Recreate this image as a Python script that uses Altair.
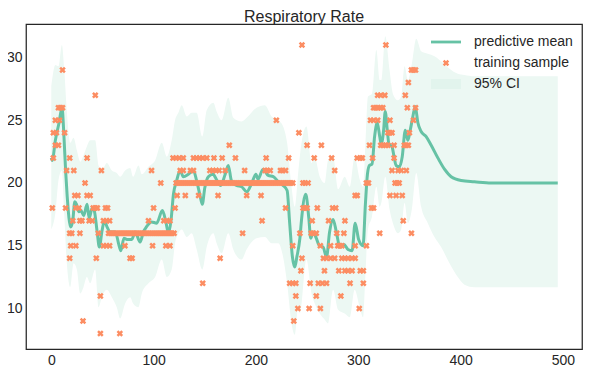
import altair as alt
import pandas as pd

# ---- predictive mean ----
mean_x = [0, 1, 4, 7.6, 10.5, 12.4, 14, 15.6, 18.9, 21,
          23, 24.7, 27, 29, 31.7, 35, 37, 40, 42, 44.7,
          47, 49.6, 52, 54.5, 57.8, 62.6, 66, 68, 71, 74,
          78.7, 82, 86.8, 90, 93, 98, 103, 108.6, 112, 114.5,
          117, 119.4, 122.6, 126, 129, 134, 139, 142, 145.4, 147.6,
          150, 153.5, 158, 162, 165.5, 170, 173, 176, 181, 186,
          191, 196, 200, 202, 207, 212, 217, 222, 226.6, 230.5,
          233, 235.7, 238, 240, 243, 244.5, 248.7, 251.7, 253.6, 256,
          259, 262, 265.6, 269, 272, 275.4, 278.6, 282, 286, 290,
          294, 297, 300.4, 304.7, 307, 309, 311, 313.5, 316, 318.6,
          321, 322.5, 324.8, 326.4, 328.4, 330, 333, 335, 337, 340.4,
          343, 346, 348.5, 350.8, 353.4, 355.7, 358.3, 361.5, 366.4, 371.3,
          377.8, 384.3, 390.8, 400.6, 413.6, 430, 460, 495]
mean_y = [22.0, 21.8, 23.4, 24.8, 26.0, 23.7, 21.0, 18.9, 16.5, 17.0,
          18.5, 18.3, 17.7, 17.8, 17.4, 18.3, 17.2, 18.0, 17.8, 16.2,
          14.9, 16.2, 17.0, 16.5, 16.1, 16.1, 15.1, 14.6, 15.6, 15.5,
          15.5, 16.1, 15.3, 16.1, 16.5, 16.9, 16.8, 17.8, 16.9, 16.0,
          17.0, 19.1, 20.2, 21.0, 20.5, 20.7, 21.0, 20.2, 19.0, 18.3,
          19.6, 20.5, 20.7, 20.2, 19.8, 20.7, 21.4, 20.2, 19.8, 19.7,
          19.3, 20.0, 20.7, 20.3, 21.1, 20.6, 20.5, 20.1, 19.8, 19.4,
          16.8, 14.1, 13.3, 14.1, 15.6, 17.0, 19.1, 17.2, 15.6, 16.1,
          15.6, 15.0, 14.9, 14.1, 16.1, 17.1, 16.1, 14.9, 15.1, 14.7,
          14.6, 16.8, 15.5, 15.0, 18.3, 20.7, 21.4, 21.5, 23.7, 24.8,
          23.7, 23.1, 24.2, 25.7, 24.2, 23.1, 22.9, 22.1, 21.4, 21.3,
          22.1, 24.2, 23.4, 24.2, 25.3, 26.1, 24.8, 24.1, 23.7, 23.0,
          22.0, 21.1, 20.5, 20.2, 20.1, 20.0, 20.0, 20.0]

# ---- 95% CI band ----
band_x = [0, 4, 7.2, 10.4, 12.7, 15.3, 18.5, 21.8, 25, 28.3,
          31.5, 34.8, 38, 42.9, 46.2, 49.4, 54.3, 59.2, 64, 67.3,
          72.2, 77.1, 80, 85.2, 88.5, 95, 101.5, 108, 112.9, 117.7,
          121, 124.2, 127.5, 132.4, 137.2, 142.1, 147.6, 151.9, 158.4, 161.6,
          166.5, 173, 177.9, 186, 190.9, 200.6, 208.8, 215.3, 221.8, 226.6,
          230.5, 234.8, 238, 241.3, 242.9, 249.4, 254.3, 257.5, 262.4, 267.3,
          270.5, 275.4, 280.3, 286.8, 291.7, 296.5, 301.4, 304.7, 306.9, 309.5,
          313.4, 317.7, 320.9, 322.5, 326.4, 330.6, 333.9, 338.8, 342, 345.3,
          348.5, 352.4, 356.7, 361.5, 368, 374.5, 381, 389.2, 397.3, 403.8,
          413.6, 495]
band_upper = [27.7, 29.4, 29.3, 31.0, 29.0, 25.6, 23.2, 23.6, 22.6, 21.7,
              22.2, 22.9, 23.4, 23.4, 21.4, 21.0, 21.6, 21.0, 20.8, 20.5,
              21.0, 21.2, 20.5, 21.4, 20.7, 21.3, 21.8, 23.2, 22.1, 23.4,
              25.0, 25.6, 26.2, 25.3, 25.6, 25.6, 23.7, 25.8, 26.4, 25.7,
              25.0, 26.8, 25.2, 24.9, 25.2, 26.0, 26.2, 25.3, 25.0, 24.5,
              23.2, 19.7, 18.1, 20.8, 22.1, 24.5, 21.6, 22.0, 20.5, 20.0,
              21.8, 22.1, 19.5, 20.5, 19.7, 22.1, 20.3, 19.7, 22.9, 26.9,
              27.1, 30.6, 28.2, 28.2, 31.7, 29.0, 27.1, 26.6, 26.9, 29.3,
              28.2, 29.5, 31.5, 30.5, 30.3, 30.1, 29.7, 29.1, 28.7, 28.6,
              28.5, 28.5]
band_lower = [16.3, 17.6, 20.3, 21.0, 17.5, 13.5, 11.7, 13.6, 13.1, 11.2,
              11.7, 12.5, 12.0, 13.1, 10.1, 10.9, 11.5, 10.9, 10.1, 9.2,
              10.4, 10.9, 10.4, 10.1, 11.2, 12.0, 12.5, 13.9, 12.5, 13.1,
              15.2, 16.0, 16.3, 15.7, 16.0, 14.7, 13.1, 14.9, 16.0, 15.2,
              14.4, 16.0, 14.7, 13.9, 14.7, 15.6, 15.7, 15.2, 15.2, 14.1,
              12.0, 8.8, 7.9, 10.1, 9.6, 13.9, 11.2, 10.4, 9.6, 9.1,
              8.8, 11.5, 9.9, 9.6, 9.3, 11.5, 10.1, 9.3, 12.5, 16.3,
              17.3, 19.7, 18.1, 18.4, 20.5, 17.9, 16.8, 16.0, 16.3, 18.4,
              16.8, 17.9, 20.8, 18.1, 16.8, 15.7, 14.9, 13.6, 12.5, 11.9,
              11.7, 11.7]

# ---- training samples: x positions for each observed rate ----
x_at_8 = [48, 67]
x_at_9 = [31, 237]
x_at_10 = [241, 252, 263, 301]
x_at_11 = [48, 239, 259, 283]
x_at_12 = [148, 233, 236, 239, 253, 261, 265, 269, 292, 305]
x_at_13 = [244, 267, 281, 287, 290, 294, 302, 305]
x_at_14 = [18, 44, 77, 79, 165, 245, 266, 269, 273, 277, 284, 287, 290, 294, 297]
x_at_15 = [19, 24, 51, 54, 57, 72, 99, 112, 116, 236, 263, 273, 280, 282, 284, 297, 308]
x_at_16 = [18, 20, 28, 46,
           56, 58, 60, 62, 64, 66, 68, 70, 72, 74, 76, 78, 80, 82, 84, 86, 88,
           90, 92, 94, 96, 98, 100, 102, 104, 106, 108, 110, 112, 114, 116, 118, 120,
           187, 243, 254, 256, 259, 279, 286, 321, 352]
x_at_17 = [21, 28, 30, 37, 40, 51, 54, 57, 95, 110, 113, 116, 206, 255, 271, 287, 344]
x_at_18 = [1, 14, 24, 27, 41, 43, 45, 53, 55, 100, 121, 229, 246, 248, 250, 260, 275, 278, 313, 315]
x_at_19 = [23, 26, 35, 38, 123, 131, 144, 163, 191, 205, 297, 299, 331, 337, 343]
x_at_20 = [33, 107,
           122, 124, 126, 128, 130, 132, 134, 136, 138, 140, 142, 144, 146, 148, 150,
           152, 154, 156, 158, 160, 162, 164, 166, 168, 170, 172, 174, 176, 178, 180,
           182, 184, 186, 188, 190, 192, 194, 196, 198, 200, 202, 204, 206, 208, 210,
           212, 214, 216, 218, 220, 222, 224, 226, 228, 230, 232, 234, 236,
           246, 248, 251, 308, 310, 336, 338, 340]
x_at_21 = [15, 22, 49, 98, 126, 129, 136, 139, 155, 158, 161, 164, 170, 189, 209, 211,
           214, 224, 226, 229, 277, 333, 339, 342, 347]
x_at_22 = [2, 18, 35, 119, 122, 125, 129, 139, 142, 145, 148, 152, 159, 167, 180, 210,
           232, 257, 274, 299, 302, 304, 314, 335]
x_at_23 = [4, 7, 174, 250, 264, 311, 322, 324, 327, 329, 335, 345, 347, 349]
x_at_24 = [2, 5, 13, 242, 329, 331, 333, 350]
x_at_25 = [4, 8, 220, 312, 315, 319, 331, 354]
x_at_26 = [7, 9, 11, 315, 317, 319, 322, 324, 348, 356]
x_at_27 = [43, 319, 322, 326, 346]
x_at_28 = [349]
x_at_29 = [11, 352, 354, 356]
x_at_31 = [245, 327]

levels = [(8, x_at_8), (9, x_at_9), (10, x_at_10), (11, x_at_11), (12, x_at_12),
          (13, x_at_13), (14, x_at_14), (15, x_at_15), (16, x_at_16), (17, x_at_17),
          (18, x_at_18), (19, x_at_19), (20, x_at_20), (21, x_at_21), (22, x_at_22),
          (23, x_at_23), (24, x_at_24), (25, x_at_25), (26, x_at_26), (27, x_at_27),
          (28, x_at_28), (29, x_at_29), (31, x_at_31)]

series_labels = ["predictive mean", "training sample", "95% CI"]
x_ticks = [0, 100, 200, 300, 400, 500]
y_ticks = [10, 15, 20, 25, 30]

GREEN = "#66c2a5"
ORANGE = "#fc8d62"
BAND = "#ecf8f3"
TEXT = "#262626"
FONT = "Liberation Sans"

mean_df = pd.DataFrame({"x": mean_x, "y": mean_y})
band_df = pd.DataFrame({"x": band_x, "lo": band_lower, "hi": band_upper})
train_rows = []
for yv, xs in levels:
    for xv in xs:
        train_rows.append({"x": xv, "y": yv, "series": "training sample"})
train_df = pd.DataFrame(train_rows)

x_scale = alt.Scale(domain=[-24.7, 518.7], nice=False, zero=False)
y_scale = alt.Scale(domain=[6.77, 32.67], nice=False, zero=False)
x_axis = alt.Axis(values=x_ticks, title=None, ticks=False, domain=False, grid=False,
                  labelFontSize=14, labelFont=FONT, labelColor=TEXT, labelPadding=4)
y_axis = alt.Axis(values=y_ticks, title=None, ticks=False, domain=False, grid=False,
                  labelFontSize=14, labelFont=FONT, labelColor=TEXT, labelPadding=4)

band = alt.Chart(band_df).mark_area(color=BAND, opacity=1, interpolate="monotone").encode(
    x=alt.X("x:Q", scale=x_scale, axis=x_axis),
    y=alt.Y("lo:Q", scale=y_scale, axis=y_axis),
    y2="hi:Q",
)

line = alt.Chart(mean_df).mark_line(color=GREEN, strokeWidth=3, interpolate="monotone").encode(
    x=alt.X("x:Q", scale=x_scale),
    y=alt.Y("y:Q", scale=y_scale),
)

LINE_PATH = "M-3,-0.28L3,-0.28L3,0.28L-3,0.28Z"
X_PATH = ("M-0.65,-0.3L-0.3,-0.65L0,-0.35L0.3,-0.65L0.65,-0.3L0.35,0"
          "L0.65,0.3L0.3,0.65L0,0.35L-0.3,0.65L-0.65,0.3L-0.35,0Z")
RECT_PATH = "M-3,-1L3,-1L3,1L-3,1Z"

legend = alt.Legend(title=None, orient="none", legendX=413, legendY=11,
                    labelFontSize=14, labelFont=FONT, labelColor=TEXT,
                    symbolSize=100, symbolStrokeWidth=0, labelOffset=21,
                    rowPadding=7, padding=0, symbolOpacity=1)

points = alt.Chart(train_df).mark_point(filled=True, size=100, opacity=1, strokeWidth=0).encode(
    x=alt.X("x:Q", scale=x_scale),
    y=alt.Y("y:Q", scale=y_scale),
    color=alt.Color("series:N", scale=alt.Scale(domain=series_labels,
                                                 range=[GREEN, ORANGE, "#e2f4ed"]),
                    legend=legend),
    shape=alt.Shape("series:N", scale=alt.Scale(domain=series_labels,
                                                 range=[LINE_PATH, X_PATH, RECT_PATH]),
                    legend=legend),
)

chart = alt.layer(band, line, points).properties(
    width=556,
    height=325,
    autosize="none",
    padding={"left": 18, "top": 16, "right": 1, "bottom": 17},
    title=alt.TitleParams("Respiratory Rate", fontSize=16, font=FONT, fontWeight="normal",
                          color=TEXT, baseline="alphabetic", offset=5, dy=18.5),
).configure_view(stroke=TEXT, strokeWidth=1.25)

chart.save("out.html", embed_options={"renderer": "svg", "actions": False})
